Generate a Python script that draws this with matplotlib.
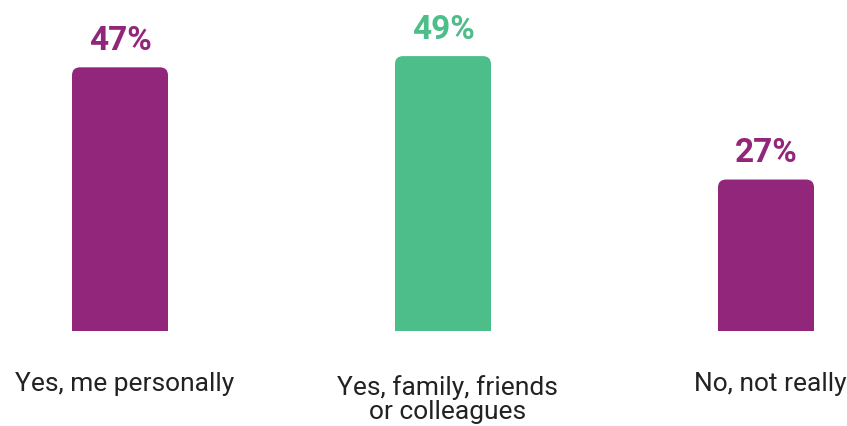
import matplotlib
matplotlib.use("Agg")
import matplotlib.pyplot as plt
from matplotlib.patches import FancyBboxPatch

plt.rcParams['font.family'] = ['Roboto', 'DejaVu Sans']

# veriler
kategoriler = ["Yes, me personally", "Yes, family, friends\nor colleagues", "No, not really"]
yuzdeler = [47, 49, 27]
renkler = ["#92267B", "#4DBD89", "#92267B"]

fig = plt.figure(figsize=(8.47, 4.27), dpi=100)
# eksen: alt kenar 332. pikselde, genislik tum figur
ax = fig.add_axes([0, 95 / 427, 1, 332 / 427])
ax.set_xlim(-120 / 323, 727 / 323)
ax.set_ylim(0, 332 / 5.61)
ax.axis("off")

genislik = 96 / 323
r_x = 8 / 323
r_y = 8 / 5.61
satir_arasi = 20.2  # iki satir arasi, punto

for i, (y, renk) in enumerate(zip(yuzdeler, renkler)):
    # ust koseleri yuvarlak cubuk, alt kisim eksen disinda kirpilir
    kutu = FancyBboxPatch((i - genislik / 2, -5), genislik, y + 5,
                          boxstyle="round,pad=0,rounding_size=%f" % r_x,
                          mutation_aspect=r_y / r_x,
                          facecolor=renk, edgecolor="none")
    ax.add_patch(kutu)
    ax.annotate("%d%%" % y, xy=(i, y), xytext=(0, 13), textcoords="offset points",
                ha="center", va="baseline", fontsize=24, fontweight="bold",
                color=renk)
    # baseline son satira gore hizalanir
    n = kategoriler[i].count("\n")
    ax.annotate(kategoriler[i], xy=(i, 0), xycoords=("data", "axes fraction"),
                xytext=(3, -42.5 - n * satir_arasi), textcoords="offset points",
                ha="center", va="baseline", fontsize=19, color="#222222",
                linespacing=0.98, annotation_clip=False)

fig.savefig("out.png", dpi=100)
